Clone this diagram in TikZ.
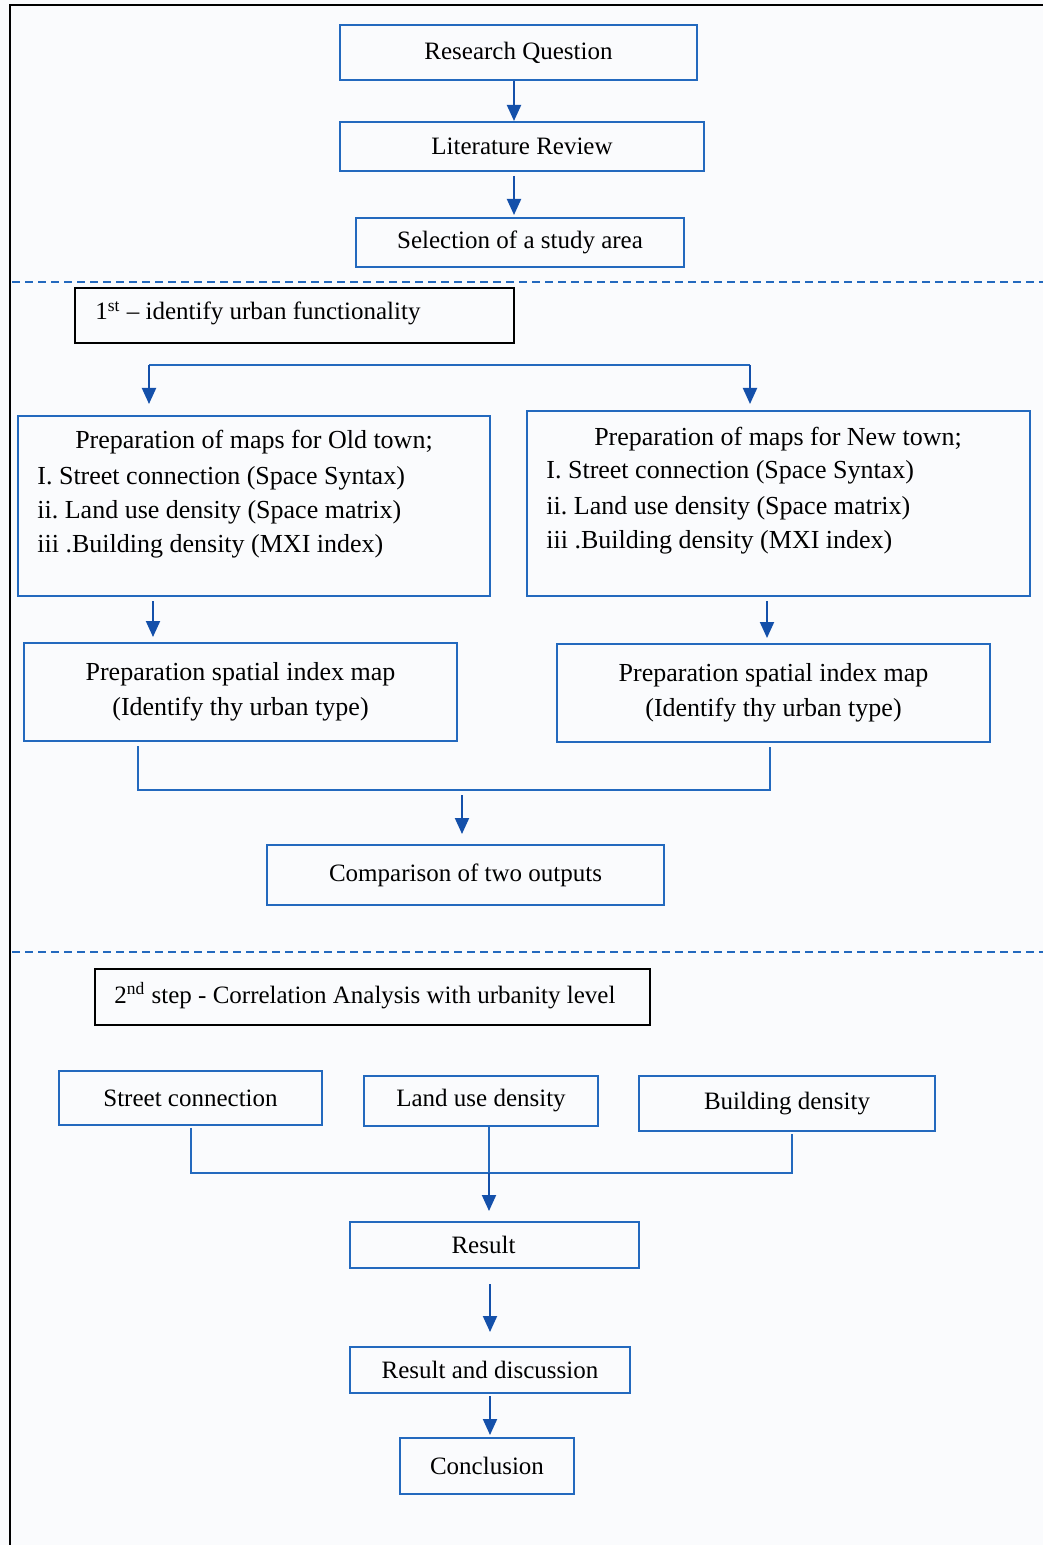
\documentclass[tikz,border=0pt]{standalone}
\usepackage{fontspec}
\setmainfont{Liberation Serif}
\usetikzlibrary{arrows.meta}
\definecolor{bxblue}{RGB}{35,105,190}
\definecolor{arblue}{RGB}{20,80,170}
\definecolor{bgpaper}{RGB}{250,251,253}
\frenchspacing
\begin{document}
\begin{tikzpicture}[x=0.5pt,y=-0.5pt,
  bbox/.style={draw=bxblue,line width=1pt,inner sep=0pt,align=center,font=\fontsize{12.5}{15}\selectfont},
  kbox/.style={draw=black,line width=1pt,inner sep=0pt},
  txt/.style={inner sep=0pt,font=\fontsize{12.5}{15}\selectfont},
  mtxt/.style={inner sep=0pt,font=\fontsize{13}{16}\selectfont},
  arr/.style={draw=arblue,line width=1pt,-{Triangle[length=8pt,width=7pt]}},
  conn/.style={draw=bxblue,line width=1pt},
  sepline/.style={draw=bxblue,line width=1pt,dash pattern=on 4pt off 2.5pt}]
\useasboundingbox (0,0) rectangle (1043,1545);
\fill[bgpaper] (0,0) rectangle (1043,1545);
% frame
\draw[black,line width=1pt] (10,1545) -- (10,5) -- (1043,5);
% separators
\draw[sepline] (12,282) -- (1043,282);
\draw[sepline] (12,952) -- (1043,952);

% top
\node[bbox,minimum width=178.5pt,minimum height=27.5pt] (rq) at (518.5,52.5) {Research Question};
\node[bbox,minimum width=182pt,minimum height=24.5pt] (lr) at (522,146.5) {Literature Review};
\node[bbox,minimum width=164pt,minimum height=24.5pt] (sa) at (520,242.5) {Selection of a study area};
\draw[arr] (rq.south -| 514,0) -- (lr.north -| 514,0);
\draw[arr,shorten <=2pt,shorten >=1pt] (lr.south -| 514,0) -- (sa.north -| 514,0);

% step 1
\node[kbox,minimum width=219.5pt,minimum height=27.5pt] (s1) at (294.5,315.5) {};
\node[txt,anchor=base west] (s1t) at (95,320) {1\textsuperscript{st} -- identify urban functionality};

\node[draw=bxblue,line width=1pt,inner sep=0pt,minimum width=236pt,minimum height=90pt] (old) at (254,506) {};
\node[draw=bxblue,line width=1pt,inner sep=0pt,minimum width=251.5pt,minimum height=92.5pt] (new) at (778.5,503.5) {};
\coordinate (bl) at (149,365);
\coordinate (brr) at (750,365);
\draw[conn] (bl) -- (brr);
\draw[arr,shorten >=5.5pt] (bl) -- (old.north -| bl);
\draw[arr,shorten >=3pt] (brr) -- (new.north -| brr);

\node[mtxt,anchor=base] (o1) at (254,449) {Preparation of maps for Old town;};
\node[mtxt,anchor=base west] (o2) at (37,484) {I. Street connection (Space Syntax)};
\node[mtxt,anchor=base west] (o3) at (37,518) {ii. Land use density (Space matrix)};
\node[mtxt,anchor=base west] (o4) at (37,552) {iii .Building density (MXI index)};
\node[mtxt,anchor=base] (n1) at (778,445) {Preparation of maps for New town;};
\node[mtxt,anchor=base west] (n2) at (546,479) {I. Street connection (Space Syntax)};
\node[mtxt,anchor=base west] (n3) at (546,514) {ii. Land use density (Space matrix)};
\node[mtxt,anchor=base west] (n4) at (546,548) {iii .Building density (MXI index)};

\node[bbox,font=\fontsize{13}{17.5}\selectfont,minimum width=216.5pt,minimum height=49pt] (spl) at (240.5,692) {Preparation spatial index map\\(Identify thy urban type)};
\node[bbox,font=\fontsize{13}{17.5}\selectfont,minimum width=216.5pt,minimum height=49pt] (spr) at (773.5,693) {Preparation spatial index map\\(Identify thy urban type)};
\draw[arr,shorten <=2pt,shorten >=2.5pt] (old.south -| 153,0) -- (spl.north -| 153,0);
\draw[arr,shorten <=2pt,shorten >=2.5pt] (new.south -| 767,0) -- (spr.north -| 767,0);

\node[bbox,minimum width=198.5pt,minimum height=30pt] (cmp) at (465.5,875) {Comparison of two outputs};
\coordinate (mg) at (462,790);
\draw[conn,shorten <=2pt] (spl.south -| 138,0) |- (mg);
\draw[conn,shorten <=2pt] (spr.south -| 770,0) |- (mg);
\draw[arr,shorten <=2.5pt,shorten >=5pt] (mg) -- (cmp.north -| mg);

% step 2
\node[kbox,minimum width=277.5pt,minimum height=28pt] (s2) at (372.5,997) {};
\node[txt,anchor=base west] (s2t) at (114,1003) {2\textsuperscript{nd} step - Correlation Analysis with urbanity level};

\node[bbox,minimum width=131.5pt,minimum height=27pt] (sc) at (190.5,1098) {Street connection};
\node[bbox,minimum width=117pt,minimum height=25pt] (lu) at (481,1101) {Land use density};
\node[bbox,minimum width=148pt,minimum height=27.5pt] (bd) at (787,1103.5) {Building density};
\node[bbox,minimum width=144.5pt,minimum height=23pt,text width=144.5pt,align=center] (res) at (494.5,1245) {\hspace*{-11pt}Result};
\node[bbox,minimum width=140pt,minimum height=23pt] (rd) at (490,1370) {Result and discussion};
\node[bbox,minimum width=87pt,minimum height=28pt] (con) at (487,1466) {Conclusion};

\coordinate (jn) at (489,1173);
\draw[conn,shorten <=1pt] (sc.south -| 191,0) |- (jn);
\draw[conn,shorten <=1pt] (bd.south -| 792,0) |- (jn);
\draw[conn] (lu.south -| jn) -- (jn);
\draw[arr,shorten >=5pt] (jn) -- (res.north -| jn);
\draw[arr,shorten <=7.5pt,shorten >=7pt] (res.south -| 490,0) -- (rd.north -| 490,0);
\draw[arr,shorten <=1pt,shorten >=1pt] (rd.south -| 490,0) -- (con.north -| 490,0);
\end{tikzpicture}
\end{document}
